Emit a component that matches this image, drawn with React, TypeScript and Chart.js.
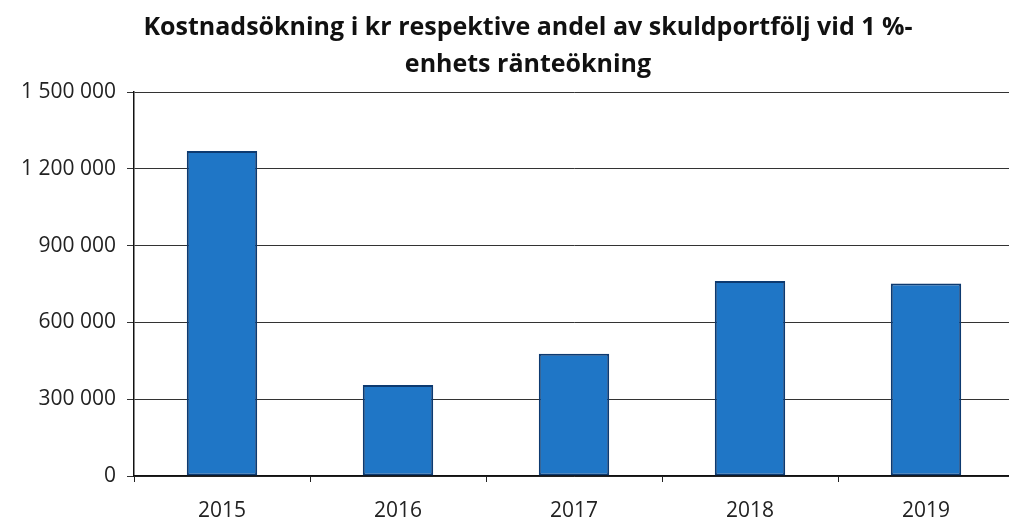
import React, { useEffect, useRef } from "react";
import { Chart, registerables } from "chart.js";

Chart.register(...registerables);

const categories = ["2015", "2016", "2017", "2018", "2019"];
const values = [1270000, 355000, 478000, 762000, 752000];
const yTicks = [0, 300000, 600000, 900000, 1200000, 1500000];
const titleLines = ["Kostnadsökning i kr respektive andel av skuldportfölj vid 1 %-", "enhets ränteökning"];

const fmt = (v: number) => String(v).replace(/\B(?=(\d{3})+(?!\d))/g, " ");

const titlePlugin = {
  id: "offsetTitle",
  afterDraw(chart: any) {
    const ctx = chart.ctx;
    ctx.save();
    ctx.font = "bold 25px 'Open Sans', sans-serif";
    ctx.fillStyle = "#111";
    ctx.textAlign = "center";
    ctx.textBaseline = "middle";
    titleLines.forEach((line, i) => ctx.fillText(line, 528, 28 + i * 37));
    ctx.restore();
  },
};

export default function App() {
  const ref = useRef<HTMLCanvasElement | null>(null);
  useEffect(() => {
    if (!ref.current) return;
    const chart = new Chart(ref.current, {
      type: "bar",
      data: {
        labels: categories,
        datasets: [
          {
            data: values,
            backgroundColor: "#1f76c6",
            borderColor: "#0d3a70",
            borderWidth: 2,
            borderSkipped: false,
            categoryPercentage: 1,
            barPercentage: 0.4,
          },
        ],
      },
      plugins: [titlePlugin],
      options: {
        animation: false,
        responsive: false,
        layout: { padding: { left: 0, right: 26, top: 92, bottom: 0 } },
        plugins: {
          legend: { display: false },
          tooltip: { enabled: false },
          title: { display: false },
        },
        scales: {
          x: {
            grid: { drawOnChartArea: false, drawTicks: true, tickLength: 6, color: "#222", lineWidth: 1 },
            border: { display: true, color: "#111", width: 1.5 },
            ticks: { color: "#222", font: { family: "'Open Sans', sans-serif", size: 21 }, padding: 16 },
            afterFit: (s: any) => { s.height = 43; },
          },
          y: {
            min: 0,
            max: 1500000,
            afterBuildTicks: (s: any) => { s.ticks = yTicks.map((v) => ({ value: v })); },
            grid: { color: "#333", lineWidth: 1, tickLength: 7 },
            border: { display: true, color: "#111", width: 1.5 },
            ticks: { color: "#222", font: { family: "'Open Sans', sans-serif", size: 21 }, padding: 11, callback: (v: any) => fmt(Number(v)) },
            afterFit: (s: any) => { s.width = 134; },
          },
        },
      },
    });
    return () => chart.destroy();
  }, []);
  return (
    <div style={{ position: "fixed", left: 0, top: 0, width: 1009, height: 519, overflow: "hidden", background: "#fff" }}>
      <canvas ref={ref} width={1040} height={519} style={{ display: "block" }} />
    </div>
  );
}
